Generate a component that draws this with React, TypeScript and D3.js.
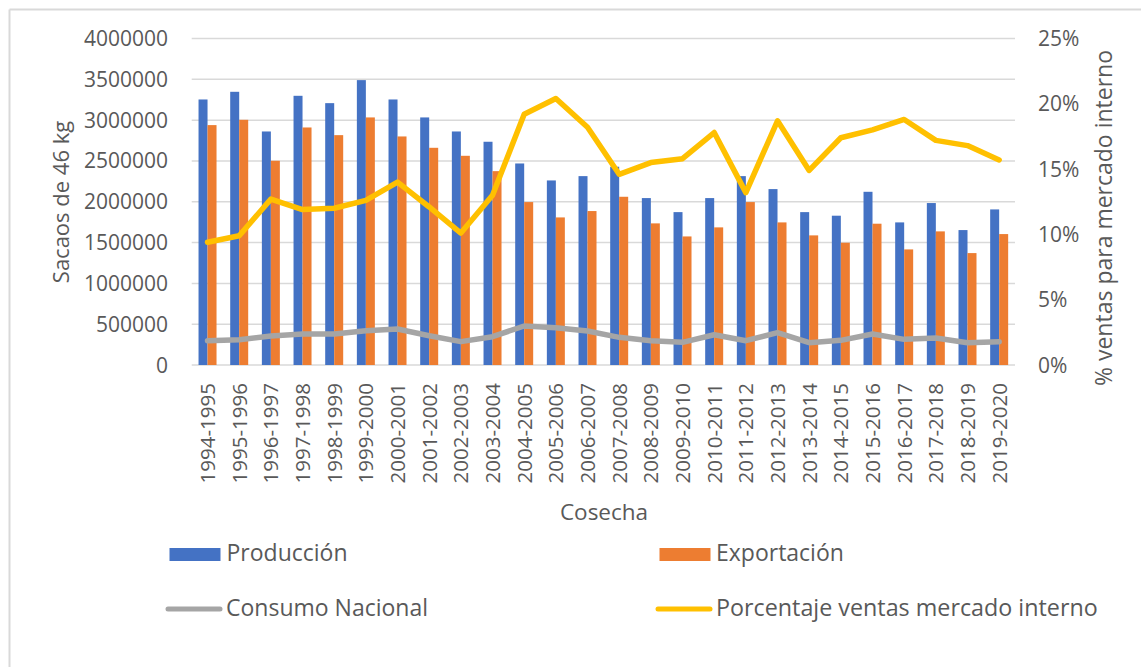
import React from "react";
import * as d3 from "d3";

const categories = [
  "1994-1995","1995-1996","1996-1997","1997-1998","1998-1999","1999-2000","2000-2001",
  "2001-2002","2002-2003","2003-2004","2004-2005","2005-2006","2006-2007","2007-2008",
  "2008-2009","2009-2010","2010-2011","2011-2012","2012-2013","2013-2014","2014-2015",
  "2015-2016","2016-2017","2017-2018","2018-2019","2019-2020",
];

const produccion = [
  3253000, 3347000, 2861000, 3298000, 3208000, 3490000, 3253000, 3033000, 2861000, 2735000,
  2469000, 2261000, 2314000, 2429000, 2045000, 1873000, 2045000, 2314000, 2155000, 1873000,
  1829000, 2122000, 1747000, 1984000, 1653000, 1906000,
];

const exportacion = [
  2939000, 3004000, 2502000, 2910000, 2816000, 3033000, 2800000, 2661000, 2563000, 2375000,
  1996000, 1808000, 1886000, 2061000, 1735000, 1575000, 1686000, 1996000, 1747000, 1588000,
  1498000, 1731000, 1416000, 1637000, 1371000, 1604000,
];

const consumo = [
  298000, 310000, 355000, 380000, 380000, 420000, 441000, 359000, 286000, 347000,
  478000, 457000, 416000, 339000, 298000, 278000, 371000, 298000, 396000, 273000,
  302000, 380000, 314000, 331000, 273000, 286000,
];

const porcentaje = [
  9.4, 9.9, 12.7, 11.9, 12.0, 12.6, 14.0, 12.1, 10.1, 13.0,
  19.2, 20.4, 18.2, 14.6, 15.5, 15.8, 17.8, 13.2, 18.7, 14.9,
  17.4, 18.0, 18.8, 17.2, 16.8, 15.7,
];

const leftTicks = [0, 500000, 1000000, 1500000, 2000000, 2500000, 3000000, 3500000, 4000000];
const rightTicks = [0, 5, 10, 15, 20, 25];

const seriesKeys = ["Producción", "Exportación"];
const COLORS = { prod: "#4472C4", exp: "#ED7D31", cons: "#A5A5A5", pct: "#FFC000" };
const TEXT = "#595959";
const GRID = "#d9d9d9";
const FONT = "'Open Sans', 'Liberation Sans', sans-serif";

export default function App() {
  const W = 1141, H = 667;
  const left = 191.7, right = 1015, top = 38.5, bottom = 365;

  const x = d3.scaleBand<string>().domain(categories).range([left, right]).paddingInner(0).paddingOuter(0);
  const bw = x.bandwidth();
  const x1 = d3.scaleBand<string>().domain(seriesKeys).range([0, bw]).paddingInner(0).paddingOuter(0.76);
  const yL = d3.scaleLinear().domain([0, 4000000]).range([bottom, top]);
  const yR = d3.scaleLinear().domain([0, 25]).range([bottom, top]);

  const lineC = d3.line<number>().x((_, i) => (x(categories[i]) as number) + bw / 2).y((d) => yL(d));
  const lineP = d3.line<number>().x((_, i) => (x(categories[i]) as number) + bw / 2).y((d) => yR(d));

  return (
    <svg width={W} height={H} style={{ position: "absolute", left: 0, top: 0, background: "#fff" }} fontFamily={FONT}>
      <rect x={0} y={0} width={W} height={H} fill="#fff" />
      {/* chart border */}
      <line x1={9.5} y1={9.5} x2={W} y2={9.5} stroke={GRID} strokeWidth={2} />
      <line x1={9.5} y1={9.5} x2={9.5} y2={H} stroke={GRID} strokeWidth={2} />

      {/* gridlines */}
      {leftTicks.map((t) => (
        <line key={t} x1={left} x2={right} y1={yL(t)} y2={yL(t)} stroke={GRID} strokeWidth={1.5} />
      ))}

      {/* bars */}
      {categories.map((c, i) => (
        <g key={c}>
          <rect x={(x(c) as number) + (x1("Producción") as number)} y={yL(produccion[i])}
            width={x1.bandwidth()} height={bottom - yL(produccion[i])} fill={COLORS.prod} />
          <rect x={(x(c) as number) + (x1("Exportación") as number)} y={yL(exportacion[i])}
            width={x1.bandwidth()} height={bottom - yL(exportacion[i])} fill={COLORS.exp} />
        </g>
      ))}

      {/* lines */}
      <path d={lineC(consumo) || ""} fill="none" stroke={COLORS.cons} strokeWidth={5.5} strokeLinejoin="round" strokeLinecap="round" />
      <path d={lineP(porcentaje) || ""} fill="none" stroke={COLORS.pct} strokeWidth={5.5} strokeLinejoin="round" strokeLinecap="round" />

      {/* left ticks */}
      {leftTicks.map((t) => (
        <text key={t} x={168} y={yL(t)} dy="0.36em" textAnchor="end" fontSize={21} fill={TEXT}>{t}</text>
      ))}
      {/* right ticks */}
      {rightTicks.map((t) => (
        <text key={t} x={1038} y={yR(t)} dy="0.36em" textAnchor="start" fontSize={21} fill={TEXT}>{t + "%"}</text>
      ))}

      {/* x labels */}
      {categories.map((c) => {
        const cx = (x(c) as number) + bw / 2;
        return (
          <text key={c} transform={`translate(${cx},383) rotate(-90)`} textAnchor="end" dy="0.36em" fontSize={20.5} fill={TEXT}>{c}</text>
        );
      })}

      {/* axis titles */}
      <text transform="translate(69,202) rotate(-90)" textAnchor="middle" fontSize={22} fill={TEXT}>Sacaos de 46 kg</text>
      <text transform="translate(1112,218) rotate(-90)" textAnchor="middle" fontSize={23} fill={TEXT}>% ventas para mercado interno</text>
      <text x={604} y={520} textAnchor="middle" fontSize={22.5} fill={TEXT}>Cosecha</text>

      {/* legend */}
      <rect x={169.5} y={548} width={51} height={13} fill={COLORS.prod} />
      <text x={226.5} y={561} fontSize={23} fill={TEXT}>{seriesKeys[0]}</text>
      <rect x={659.5} y={548} width={51} height={13} fill={COLORS.exp} />
      <text x={716} y={561} fontSize={23} fill={TEXT}>{seriesKeys[1]}</text>
      <line x1={168} x2={220} y1={609} y2={609} stroke={COLORS.cons} strokeWidth={5} strokeLinecap="round" />
      <text x={226} y={615.5} fontSize={23} fill={TEXT}>Consumo Nacional</text>
      <line x1={658} x2={710} y1={609} y2={609} stroke={COLORS.pct} strokeWidth={5} strokeLinecap="round" />
      <text x={716} y={615.5} fontSize={23.3} fill={TEXT}>Porcentaje ventas mercado interno</text>
    </svg>
  );
}
